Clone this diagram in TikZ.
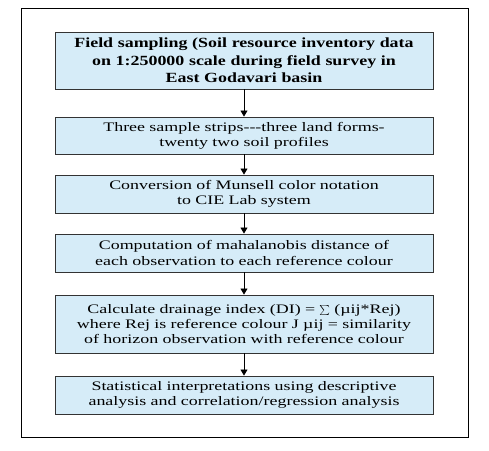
\documentclass[tikz,border=0pt]{standalone}
\usepackage{fontspec}
\setmainfont{Liberation Serif}
\newfontfamily\boxfont[FakeStretch=1.38]{Liberation Serif}
\newfontfamily\headfont[FakeStretch=1.28]{Liberation Serif}
\usepackage{xcolor}
\usepackage{tikz}
\usetikzlibrary{arrows.meta}
\definecolor{boxblue}{HTML}{D6ECF8}
\tikzset{flowbox/.style={draw=black!80,fill=boxblue,line width=0.9pt,minimum width=378pt,text width=374pt,align=center,inner sep=1pt,font=\boxfont\fontsize{13}{15.3}\selectfont},
  flowarr/.style={-{Triangle[length=6pt,width=7pt]},line width=0.8pt}}

\begin{document}
\begin{tikzpicture}[x=1pt,y=1pt]
\useasboundingbox (0,0) rectangle (489,-450);
\draw[line width=0.9pt] (21,-8) rectangle (468,-437);
\node[flowbox,minimum height=57pt,font=\headfont\bfseries\fontsize{14}{17.3}\selectfont] (fs) at (244,-60.5) {Field sampling (Soil resource inventory data\\on 1:250000 scale during field survey in\\East Godavari basin};
\node[flowbox,minimum height=37pt] (st) at (244,-135.5) {Three sample strips-{}-{}-three land forms-\\twenty two soil profiles};
\node[flowbox,minimum height=38pt] (cv) at (244,-194) {Conversion of Munsell color notation\\to CIE Lab system};
\node[flowbox,minimum height=38pt] (md) at (244,-253) {Computation of mahalanobis distance of\\each observation to each reference colour};
\node[flowbox,minimum height=58pt] (di) at (244,-324) {Calculate drainage index (DI) = $\sum$ (\textmu ij*Rej)\\where Rej is reference colour J \textmu ij = similarity\\of horizon observation with reference colour};
\node[flowbox,minimum height=38pt] (si) at (244,-395) {Statistical interpretations using descriptive\\analysis and correlation/regression analysis};
\foreach \a/\b in {fs/st,st/cv,cv/md,md/di,di/si}
  \draw[flowarr] (\a) -- (\b);
\end{tikzpicture}
\end{document}
